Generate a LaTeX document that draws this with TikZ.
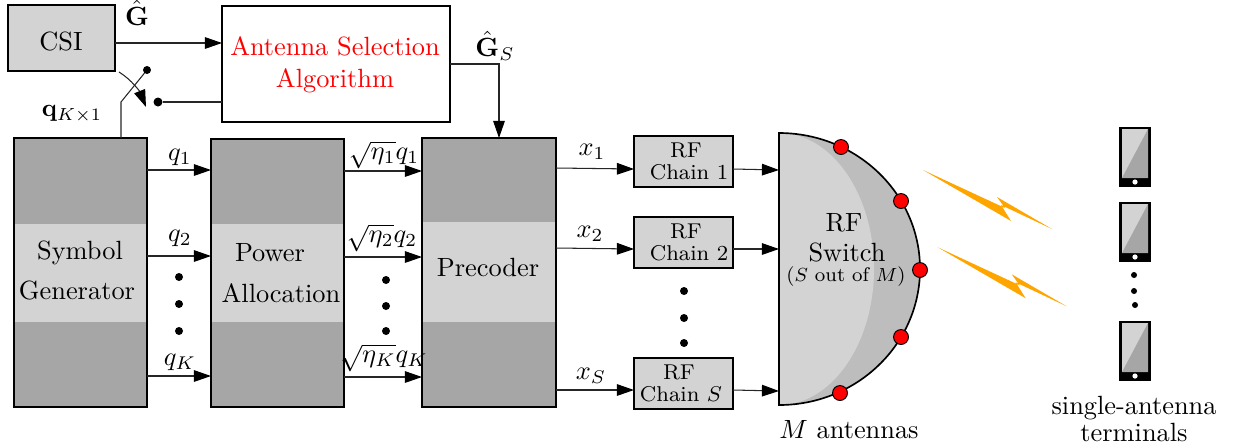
\documentclass[tikz,border=0pt]{standalone}
\usepackage{amsmath}
\usetikzlibrary{arrows.meta,calc}
\definecolor{darkblk}{HTML}{A6A6A6}
\definecolor{lightblk}{HTML}{D3D3D3}
\definecolor{midblk}{HTML}{BDBDBD}
\definecolor{boltc}{HTML}{FFA500}
\newcommand{\txt}[3]{\node[lbl] (#1) at (#2) {#3};}
\newcommand{\blk}[6]{% name, x1,y1,x2,y2 (band in #6)
  \path[fill=darkblk] (#2,#3) rectangle (#4,#5);
  \path[fill=lightblk] #6;
  \node[blockoutline,minimum width={(#4-#2)*0.3622pt},minimum height={(#5-#3)*0.3622pt}] (#1) at ({(#2+#4)/2},{(#3+#5)/2}) {};}
\newcommand{\phone}[2]{% name, top y
  \node[phonebody] (#1) at (1135,#2+30) {};
  \path[fill=lightblk] (1122,#2+2.5) rectangle (1148,#2+51.5);
  \path[fill=darkblk] (1148,#2+2.5) -- (1148,#2+51.5) -- (1122,#2+51.5) -- cycle;
  \path[fill=white] (1135,#2+55.5) circle[radius=2.6];}
\newcommand{\bolt}[2]{%
  \path[fill=boltc] (#1+923,#2+170) -- (#1+1005,#2+208) -- (#1+997,#2+197) -- (#1+1052,#2+229) -- (#1+1001,#2+205) -- (#1+1011,#2+221) -- cycle;}
\tikzset{
  x=0.3622pt,y=-0.3622pt,
  lbl/.style={inner sep=0pt,outer sep=0pt,align=center,scale=0.955},
  blockoutline/.style={draw=black,line width=0.6pt,inner sep=0pt,outer sep=0pt,fill=none},
  graybox/.style={draw=black,line width=0.7pt,fill=lightblk,inner sep=0pt,outer sep=0pt},
  whitebox/.style={draw=black,line width=0.6pt,fill=white,inner sep=0pt,outer sep=0pt},
  phonebody/.style={fill=black,inner sep=0pt,outer sep=0pt,minimum width=32*0.3622pt,minimum height=60*0.3622pt},
  wire/.style={line width=0.38pt,draw=black!85},
  arr/.style={wire,-{Triangle[length=6.2pt,width=4.2pt,black]}},
  dotn/.style={circle,fill=black,inner sep=0pt,outer sep=0pt,minimum size=#1*0.3622pt},
  reddot/.style={circle,fill=red,draw=black,line width=0.35pt,inner sep=0pt,outer sep=0pt,minimum size=5.4pt},
  rftxt/.style={inner sep=0pt,outer sep=0pt,align=center,font=\fontsize{8}{9}\selectfont,scale=0.97},
}
\begin{document}
\begin{tikzpicture}
\useasboundingbox (0,0) rectangle (1235,446);
% top row
\node[graybox,minimum width=107*0.3622pt,minimum height=66*0.3622pt] (csi) at (61.5,38) {};
\txt{csit}{61,41}{CSI}
\node[whitebox,minimum width=228*0.3622pt,minimum height=116*0.3622pt] (alg) at (336,64) {};
\node[lbl,text=red] (algt) at (335,64.5) {Antenna Selection\\Algorithm};
\txt{ghat}{137,13}{$\hat{\mathbf{G}}$}
\txt{ghats}{495,46}{$\hat{\mathbf{G}}_S$}
\node[lbl,scale=0.95] (qvec) at (72,114) {$\mathbf{q}_{K\times 1}$};
% blocks
\blk{gen}{14}{138}{147}{407}{(14,224) rectangle (147,322)}
\blk{pow}{211}{139}{344}{407}{(211,224) rectangle (344,322)}
\blk{pre}{422}{138}{556}{407}{(422,222) rectangle (556,322)}
\txt{g1}{80,253}{Symbol}
\txt{g2}{77,290}{Generator}
\txt{p1}{270,253}{Power}
\txt{p2}{281,293}{Allocation}
\txt{r1}{488,267}{Precoder}
% RF chains
\node[graybox,minimum width=99*0.3622pt,minimum height=51*0.3622pt] (rf1) at (683.5,161.5) {};
\node[graybox,minimum width=99*0.3622pt,minimum height=51*0.3622pt] (rf2) at (683.5,242.5) {};
\node[graybox,minimum width=99*0.3622pt,minimum height=51*0.3622pt] (rf3) at (683.5,383.5) {};
\node[rftxt] (rf1a) at (686,150) {RF};
\node[rftxt] (rf1b) at (689,172) {Chain 1};
\node[rftxt] (rf2a) at (686,231) {RF};
\node[rftxt] (rf2b) at (689,253) {Chain 2};
\node[rftxt] (rf3a) at (679,372) {RF};
\node[rftxt] (rf3b) at (681,394) {Chain $S$};
% switch
\fill[midblk] (779,133) arc[start angle=-90,end angle=90,x radius=141,y radius=136] -- cycle;
\fill[lightblk] (779,133) arc[start angle=-90,end angle=90,x radius=95,y radius=136] -- cycle;
\draw[line width=0.6pt] (779,405) -- (779,133) arc[start angle=-90,end angle=90,x radius=141,y radius=136] -- cycle;
\coordinate (swl) at (779,269);
\node[reddot] (a1) at (841,147) {};
\node[reddot] (a2) at (901,201) {};
\node[reddot] (a3) at (920,270) {};
\node[reddot] (a4) at (901,337) {};
\node[reddot] (a5) at (840,393) {};
\txt{s1}{844,223}{RF}
\txt{s2}{847,252}{Switch}
\node[inner sep=0pt,outer sep=0pt,font=\fontsize{8.3}{10}\selectfont,scale=0.86] (s3) at (846,277) {($S$ out of $M$)};
\txt{mant}{849,430}{$M$ antennas}
% bolts
\bolt{0}{0}
\bolt{14.7}{77.3}
% phones
\phone{ph1}{126.5}
\phone{ph2}{201.5}
\phone{ph3}{320.5}
\node[dotn=6] (d1) at (1134,275) {};
\node[dotn=6] (d2) at (1134,291) {};
\node[dotn=6] (d3) at (1135,305) {};
\txt{t1}{1134,408}{single-antenna}
\node[lbl] (t2) at (1134,432) {terminals};
% dots
\node[dotn=8] (e1) at (179,277) {};
\node[dotn=8] (e2) at (179,304) {};
\node[dotn=8] (e3) at (179,331) {};
\node[dotn=8] (f1) at (386,280) {};
\node[dotn=8] (f2) at (386,306) {};
\node[dotn=8] (f3) at (386,331) {};
\node[dotn=8] (h1) at (684,291) {};
\node[dotn=8] (h2) at (684,318) {};
\node[dotn=8] (h3) at (684,343) {};
% labels
\txt{lq1}{180,157}{$q_1$}
\txt{lq2}{180,238}{$q_2$}
\txt{lqk}{180,362}{$q_K$}
\txt{le1}{384,155}{$\sqrt{\eta_1}q_1$}
\txt{le2}{382,238}{$\sqrt{\eta_2}q_2$}
\txt{lek}{384,358}{$\sqrt{\eta_K}q_K$}
\txt{lx1}{592,152}{$x_1$}
\txt{lx2}{590,234}{$x_2$}
\txt{lxs}{591,376}{$x_S$}
% connectors
\draw[arr] (csi.east |- 0,43) -- (alg.west |- 0,43);
\node[dotn=9] (swa) at (158,102) {};
\node[dotn=8] (swb) at (147,70) {};
\draw[wire] (alg.west |- 0,102) -- (swa);
\draw[wire] (gen.north -| 121,0) -- (121,102) -- (swb);
\draw[wire,-{Triangle[length=6.2pt,width=4.2pt,black]}] (119,72) .. controls (132,80) and (140,92) .. (146,107);
\coordinate (bend) at (499,64);
\draw[arr] (alg.east |- bend) -- (bend) -- (pre.north -| bend);
\draw[arr] (gen.east |- 0,170) -- (pow.west |- 0,170);
\draw[arr] (gen.east |- 0,256) -- (pow.west |- 0,256);
\draw[arr] (gen.east |- 0,376) -- (pow.west |- 0,376);
\draw[arr] (pow.east |- 0,171) -- (pre.west |- 0,171);
\draw[arr] (pow.east |- 0,257) -- (pre.west |- 0,257);
\draw[arr] (pow.east |- 0,377) -- (pre.west |- 0,377);
\draw[arr] (pre.east |- 0,168) -- (rf1.west |- 0,169);
\draw[arr] (pre.east |- 0,248) -- (rf2.west |- 0,249);
\draw[arr] (pre.east |- 0,390) -- (rf3.west |- 0,390);
\draw[arr] (rf1.east |- 0,169) -- (swl |- 0,170);
\draw[arr] (rf2.east |- 0,249) -- (swl |- 0,249);
\draw[arr] (rf3.east |- 0,390) -- (swl |- 0,391);
\end{tikzpicture}
\end{document}
